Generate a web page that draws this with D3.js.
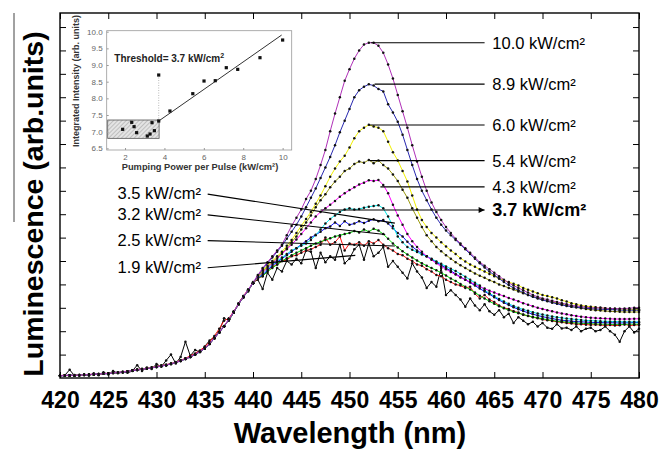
<!DOCTYPE html>
<html><head><meta charset="utf-8">
<script src="https://cdn.jsdelivr.net/npm/d3@7"></script>
<style>body{margin:0;background:#fff}svg{display:block}</style>
</head><body><svg id="c" width="660" height="450"></svg>
<script>
// ---------- data ----------
const wavelengths = [
420,420.5,421,421.5,422,422.5,423,423.5,424,424.5,
425,425.5,426,426.5,427,427.5,428,428.5,429,429.5,
430,430.5,431,431.5,432,432.5,433,433.5,434,434.5,
435,435.5,436,436.5,437,437.5,438,438.5,439,439.5,
440,440.5,441,441.5,442,442.5,443,443.5,444,444.5,
445,445.5,446,446.5,447,447.5,448,448.5,449,449.5,
450,450.5,451,451.5,452,452.5,453,453.5,454,454.5,
455,455.5,456,456.5,457,457.5,458,458.5,459,459.5,
460,460.5,461,461.5,462,462.5,463,463.5,464,464.5,
465,465.5,466,466.5,467,467.5,468,468.5,469,469.5,
470,470.5,471,471.5,472,472.5,473,473.5,474,474.5,
475,475.5,476,476.5,477,477.5,478,478.5,479,479.5,480];

const p19 = [
0.10,0.12,0.35,0.10,0.12,0.15,0.10,0.20,0.12,0.25,
0.15,0.30,0.20,0.25,0.22,0.30,0.55,0.30,0.45,0.38,
0.60,0.48,0.75,1.00,0.62,0.90,1.55,0.95,1.20,1.10,
1.35,1.60,1.75,2.00,2.55,2.45,2.80,3.20,3.50,3.70,
4.10,4.20,3.80,4.50,4.20,4.70,4.55,5.00,4.85,5.10,
4.90,5.45,5.40,4.70,5.35,4.95,5.20,5.05,5.70,4.90,
5.10,5.50,5.70,5.05,5.75,5.20,5.35,5.60,4.75,5.00,
4.75,4.50,4.25,4.90,4.55,4.30,3.85,4.10,3.90,4.70,
3.55,3.75,3.55,3.35,3.05,3.40,3.10,2.90,3.15,2.85,
2.70,2.90,2.60,2.75,2.35,2.60,2.45,2.30,2.40,2.20,
2.35,2.15,2.10,2.30,2.12,2.15,2.05,2.20,2.00,2.10,
2.15,2.00,2.05,2.20,2.00,1.85,1.55,2.00,2.20,1.95,2.10];

const p25 = [
0.10,0.12,0.11,0.13,0.12,0.14,0.15,0.16,0.17,0.19,
0.20,0.22,0.23,0.27,0.29,0.32,0.36,0.38,0.42,0.45,
0.49,0.53,0.57,0.62,0.68,0.76,0.84,0.95,1.05,1.18,
1.33,1.55,1.80,2.10,2.45,2.55,2.85,3.15,3.50,3.78,
4.05,4.25,4.35,4.60,4.75,4.85,5.00,5.05,5.20,5.25,
5.35,5.45,5.50,5.60,5.70,6.00,5.70,5.80,6.05,5.45,
5.75,5.70,5.80,5.65,5.85,5.75,5.90,5.70,5.55,5.45,
5.30,5.25,5.10,5.00,4.85,4.80,4.65,4.55,4.40,4.35,
4.20,4.10,4.00,3.95,3.85,3.90,3.60,3.40,3.55,3.35,
3.25,3.10,3.00,2.95,2.85,2.80,2.70,2.65,2.60,2.55,
2.50,2.47,2.44,2.40,2.38,2.35,2.33,2.30,2.30,2.28,
2.27,2.28,2.26,2.25,2.26,2.24,2.25,2.30,2.24,2.26,2.27];

const p32 = [
0.10,0.10,0.11,0.12,0.13,0.13,0.14,0.16,0.16,0.18,
0.19,0.21,0.24,0.26,0.28,0.31,0.34,0.37,0.41,0.43,
0.47,0.52,0.55,0.60,0.66,0.74,0.82,0.90,1.00,1.12,
1.26,1.46,1.70,1.95,2.20,2.50,2.80,3.15,3.45,3.75,
4.05,4.28,4.35,4.55,4.70,4.85,5.00,5.12,5.25,5.35,
5.45,5.55,5.65,5.75,5.82,5.90,5.97,6.05,6.10,6.15,
6.20,6.28,6.22,6.35,6.25,6.38,6.30,6.15,5.95,5.75,
5.58,5.42,5.28,5.15,5.02,4.90,4.80,4.70,4.60,4.50,
4.38,4.25,4.15,4.02,3.90,3.78,3.65,3.52,3.40,3.28,
3.17,3.07,2.98,2.90,2.83,2.77,2.71,2.66,2.61,2.57,
2.53,2.49,2.46,2.43,2.41,2.39,2.37,2.35,2.34,2.33,
2.32,2.31,2.30,2.30,2.29,2.29,2.29,2.29,2.30,2.30,2.30];

const p35 = [
0.10,0.11,0.12,0.11,0.12,0.14,0.14,0.16,0.16,0.18,
0.20,0.21,0.23,0.25,0.28,0.32,0.34,0.38,0.40,0.43,
0.48,0.51,0.55,0.61,0.66,0.74,0.81,0.90,1.01,1.12,
1.26,1.46,1.70,1.95,2.21,2.50,2.80,3.16,3.45,3.76,
4.05,4.28,4.40,4.60,4.80,4.95,5.10,5.25,5.40,5.55,
5.70,5.85,6.00,6.12,6.25,6.40,6.48,6.65,6.50,6.70,
6.55,6.60,6.70,6.62,6.72,6.78,6.70,6.75,6.60,6.40,
6.20,6.05,5.82,5.62,5.45,5.32,5.20,5.08,4.95,4.83,
4.70,4.58,4.45,4.32,4.20,4.08,3.95,3.82,3.70,3.58,
3.45,3.33,3.22,3.12,3.02,2.94,2.86,2.79,2.73,2.67,
2.62,2.58,2.54,2.50,2.47,2.45,2.43,2.41,2.40,2.39,
2.38,2.37,2.37,2.36,2.36,2.36,2.35,2.36,2.36,2.37,2.37];

const p37 = [
0.11,0.10,0.11,0.12,0.12,0.13,0.15,0.15,0.17,0.18,
0.19,0.22,0.23,0.26,0.28,0.31,0.35,0.37,0.40,0.44,
0.47,0.51,0.56,0.60,0.67,0.73,0.81,0.91,1.00,1.13,
1.27,1.45,1.71,1.96,2.20,2.50,2.81,3.15,3.46,3.75,
4.05,4.30,4.45,4.65,4.85,5.00,5.15,5.30,5.45,5.55,
5.65,5.75,5.90,6.10,6.35,6.60,6.80,6.95,7.10,7.20,
7.25,7.20,7.22,7.28,7.32,7.35,7.38,7.25,6.90,6.50,
6.05,5.80,5.60,5.48,5.38,5.28,5.20,5.10,4.98,4.88,
4.77,4.67,4.57,4.45,4.33,4.20,4.07,3.95,3.75,3.62,
3.50,3.38,3.27,3.17,3.08,3.00,2.93,2.87,2.81,2.76,
2.71,2.67,2.63,2.60,2.57,2.54,2.52,2.50,2.48,2.46,
2.45,2.44,2.43,2.42,2.42,2.41,2.41,2.40,2.40,2.40,2.40];

const p43 = [
0.10,0.10,0.11,0.11,0.13,0.14,0.14,0.16,0.16,0.18,
0.19,0.21,0.24,0.25,0.28,0.32,0.34,0.37,0.40,0.44,
0.47,0.51,0.56,0.60,0.66,0.73,0.82,0.90,1.00,1.13,
1.26,1.46,1.70,1.95,2.20,2.51,2.80,3.15,3.45,3.75,
4.05,4.30,4.50,4.70,4.90,5.10,5.30,5.50,5.70,5.92,
6.15,6.40,6.65,6.90,7.10,7.25,7.40,7.57,7.75,7.90,
8.03,8.15,8.27,8.35,8.45,8.42,8.46,8.25,7.90,7.40,
6.95,6.55,6.15,5.85,5.60,5.40,5.20,5.05,4.90,4.77,
4.65,4.53,4.42,4.30,4.20,4.10,4.00,3.90,3.82,3.73,
3.65,3.57,3.50,3.42,3.35,3.28,3.20,3.13,3.07,3.00,
2.95,2.90,2.85,2.80,2.76,2.72,2.68,2.65,2.62,2.60,
2.58,2.56,2.55,2.54,2.53,2.52,2.52,2.52,2.52,2.53,2.53];

const p54 = [
0.10,0.11,0.10,0.12,0.13,0.13,0.15,0.15,0.16,0.19,
0.19,0.22,0.23,0.25,0.29,0.31,0.35,0.37,0.41,0.43,
0.48,0.51,0.56,0.60,0.67,0.73,0.82,0.90,1.01,1.12,
1.27,1.45,1.71,1.95,2.21,2.50,2.80,3.16,3.45,3.76,
4.05,4.32,4.55,4.75,4.95,5.15,5.35,5.55,5.80,6.05,
6.35,6.65,6.95,7.30,7.60,7.85,8.15,8.40,8.60,8.85,
8.95,9.15,9.25,9.20,9.32,9.18,9.30,9.10,8.95,8.70,
8.42,8.05,7.70,7.25,6.85,6.45,6.10,5.85,5.60,5.42,
5.25,5.10,4.95,4.82,4.70,4.58,4.47,4.37,4.28,4.18,
4.10,4.00,3.93,3.85,3.78,3.70,3.62,3.55,3.48,3.42,
3.36,3.30,3.25,3.20,3.15,3.10,3.05,3.02,2.98,2.95,
2.92,2.90,2.88,2.86,2.85,2.84,2.83,2.82,2.82,2.82,2.82];

const p60 = [
0.11,0.10,0.11,0.12,0.12,0.14,0.14,0.15,0.16,0.18,
0.20,0.21,0.23,0.26,0.28,0.31,0.34,0.38,0.40,0.44,
0.47,0.52,0.55,0.61,0.66,0.74,0.81,0.91,1.00,1.13,
1.27,1.46,1.70,1.96,2.21,2.50,2.81,3.15,3.46,3.76,
4.05,4.33,4.60,4.80,5.00,5.20,5.40,5.65,5.90,6.20,
6.50,6.80,7.10,7.45,7.80,8.20,8.60,8.95,9.25,9.50,
9.85,10.25,10.55,10.70,10.82,10.75,10.70,10.55,10.10,9.65,
9.30,8.85,8.40,7.80,7.20,6.75,6.45,6.20,6.00,5.80,
5.62,5.45,5.30,5.12,4.98,4.85,4.75,4.65,4.55,4.45,
4.35,4.25,4.17,4.10,4.03,3.95,3.85,3.77,3.70,3.62,
3.55,3.50,3.45,3.40,3.32,3.27,3.20,3.15,3.10,3.07,
3.05,3.02,3.00,2.98,2.96,2.95,2.95,2.94,2.94,2.93,2.93];

const p89 = [
0.10,0.10,0.12,0.11,0.13,0.13,0.14,0.15,0.17,0.18,
0.19,0.21,0.23,0.25,0.28,0.31,0.34,0.37,0.40,0.43,
0.47,0.51,0.55,0.60,0.66,0.73,0.81,0.90,1.00,1.12,
1.26,1.45,1.70,1.95,2.20,2.50,2.80,3.15,3.45,3.75,
4.05,4.35,4.65,4.90,5.15,5.40,5.65,5.95,6.25,6.55,
6.90,7.30,7.70,8.10,8.55,9.00,9.45,9.95,10.50,11.00,
11.50,12.00,12.30,12.45,12.55,12.50,12.35,12.25,11.70,11.35,
10.95,10.40,9.75,9.10,8.50,8.00,7.60,7.20,6.85,6.55,
6.30,6.10,5.90,5.70,5.50,5.30,5.10,4.90,4.72,4.55,
4.40,4.25,4.10,3.97,3.85,3.75,3.65,3.55,3.47,3.40,
3.33,3.28,3.22,3.17,3.12,3.08,3.05,3.02,3.00,2.98,
2.96,2.95,2.94,2.93,2.92,2.92,2.90,2.90,2.90,2.90,2.90];

const p100 = [
0.10,0.11,0.11,0.12,0.12,0.13,0.15,0.16,0.17,0.18,
0.20,0.22,0.24,0.26,0.29,0.32,0.35,0.38,0.41,0.44,
0.48,0.52,0.56,0.61,0.67,0.74,0.82,0.91,1.02,1.14,
1.28,1.47,1.72,1.97,2.22,2.52,2.83,3.17,3.48,3.78,
4.08,4.40,4.70,4.95,5.20,5.45,5.70,6.10,6.50,6.85,
7.20,7.65,8.00,8.50,9.10,9.75,10.55,11.30,12.00,12.70,
13.20,13.65,14.00,14.25,14.33,14.33,14.20,13.90,13.40,12.80,
12.10,11.40,10.70,9.95,9.25,8.60,8.00,7.50,7.10,6.75,
6.45,6.20,5.95,5.75,5.55,5.35,5.15,4.95,4.80,4.65,
4.50,4.35,4.20,4.07,3.95,3.85,3.75,3.65,3.55,3.47,
3.40,3.35,3.30,3.25,3.20,3.15,3.10,3.08,3.05,3.03,
3.00,3.00,3.00,2.98,2.97,2.97,2.96,2.97,2.98,3.00,3.00];

// drawn from bottom to top
const seriesList  = [p19, p25, p32, p35, p37, p43, p54, p60, p89, p100];
const seriesColor = ["#000000","#ff1010","#00dd00","#1010ff","#00e8e8","#ff00ff","#9a9a10","#f0f000","#2828b0","#b030b8"];

const xTicks = [420,425,430,435,440,445,450,455,460,465,470,475,480];
const yTicks = [1,2,3,4,5,6,7,8,9,10,11,12,13,14,15];

// right-side labels: text, leader start (nm, value), leader end nm
const rightLabels = ["10.0 kW/cm²","8.9 kW/cm²","6.0 kW/cm²","5.4 kW/cm²","4.3 kW/cm²","3.7 kW/cm²"];
const rightStartNm = [452.2, 452.6, 452.0, 452.1, 453.2, 447.0];
const rightValue   = [14.33, 12.56, 10.81, 9.29, 8.17, 7.18];
// left-side labels with sloped leaders
const leftLabels   = ["3.5 kW/cm²","3.2 kW/cm²","2.5 kW/cm²","1.9 kW/cm²"];
const leftStartVal = [7.86, 6.97, 5.87, 4.71];
const leftEndNm    = [454.7, 453.7, 454.7, 450.6];
const leftEndVal   = [6.62, 6.13, 5.64, 5.24];

// inset: integrated intensity vs pumping power
const insetPower     = [1.88,2.34,2.46,2.59,3.13,3.27,3.37,3.49,3.71,3.71,4.28,5.44,6.01,6.58,7.14,7.72,8.85,10.0];
const insetIntensity = [7.07,7.28,7.15,6.97,6.87,6.93,7.27,7.03,7.32,8.70,7.62,8.14,8.52,8.53,8.92,8.87,9.22,9.75];
const fitPower = [3.71, 9.95];
const fitIntensity = [7.32, 9.90];
const insetYTicks = [6.5,7.0,7.5,8.0,8.5,9.0,9.5,10.0];
const insetXTicks = [2,4,6,8,10];

// ---------- drawing ----------
const svg = d3.select("#c");
const FONT = "'Liberation Sans', Arial, Helvetica, sans-serif";
const x = d3.scaleLinear([420,480],[60,639]);
const y = d3.scaleLinear([0,15.6],[378,13]);

const defs = svg.append("defs");
defs.append("marker").attr("id","arr").attr("viewBox","0 0 10 10").attr("refX",10).attr("refY",5)
  .attr("markerWidth",9).attr("markerHeight",6).attr("markerUnits","userSpaceOnUse").attr("orient","auto")
  .append("path").attr("d","M0,0L10,5L0,10Z").attr("fill","#000");
const pat = defs.append("pattern").attr("id","hatch").attr("patternUnits","userSpaceOnUse")
  .attr("width",3).attr("height",3).attr("patternTransform","rotate(45)");
pat.append("rect").attr("width",3).attr("height",3).attr("fill","#e4e4e4");
pat.append("line").attr("x1",0).attr("y1",0).attr("x2",0).attr("y2",3).attr("stroke","#888").attr("stroke-width",0.8);

// series
const line = d3.line().x((d,i)=>x(wavelengths[i])).y(d=>y(d));
const sg = svg.append("g");
seriesList.forEach((s,k)=>{
  const g = sg.append("g");
  g.append("path").attr("d",line(s)).attr("fill","none").attr("stroke",seriesColor[k]).attr("stroke-width",1);
  g.selectAll("circle").data(s).join("circle")
    .attr("cx",(d,i)=>x(wavelengths[i])).attr("cy",d=>y(d)).attr("r",1.25).attr("fill","#111");
});

// axes (inward ticks)
function styleAxis(g){ g.select(".domain").remove(); g.selectAll(".tick line").attr("stroke","#000").attr("stroke-width",1); }
svg.append("g").attr("transform","translate(0,378)")
  .call(d3.axisBottom(x).tickValues(xTicks).tickSizeInner(-6).tickSizeOuter(0).tickPadding(14).tickFormat(d3.format("d")))
  .call(styleAxis)
  .call(g=>g.selectAll("text").attr("font-family","'Liberation Sans Narrow','Arial Narrow',"+FONT)
     .attr("font-weight","bold").attr("font-size",23).attr("fill","#000"));
svg.append("g").attr("transform","translate(0,13)")
  .call(d3.axisTop(x).tickValues(xTicks).tickSizeInner(-6).tickSizeOuter(0).tickFormat(""))
  .call(styleAxis);
svg.append("g").attr("transform","translate(60,0)")
  .call(d3.axisLeft(y).tickValues(yTicks).tickSizeInner(-6).tickSizeOuter(0).tickFormat(""))
  .call(styleAxis);
svg.append("g").attr("transform","translate(639,0)")
  .call(d3.axisRight(y).tickValues(yTicks).tickSizeInner(-6).tickSizeOuter(0).tickFormat(""))
  .call(styleAxis);
svg.append("rect").attr("x",60).attr("y",13).attr("width",579).attr("height",365)
  .attr("fill","none").attr("stroke","#000").attr("stroke-width",1.4);

// axis titles
svg.append("text").attr("x",350).attr("y",443).attr("text-anchor","middle")
  .attr("font-family",FONT).attr("font-weight","bold").attr("font-size",29).text("Wavelength (nm)");
svg.append("text").attr("transform","translate(43,204) rotate(-90)").attr("text-anchor","middle")
  .attr("font-family",FONT).attr("font-weight","bold").attr("font-size",28.5).text("Luminescence (arb.units)");
svg.append("line").attr("x1",14).attr("x2",14).attr("y1",13).attr("y2",222).attr("stroke","#444").attr("stroke-width",1);

// right labels
const textX = x(464.8);
rightLabels.forEach((t,i)=>{
  const isArrow = i===rightLabels.length-1;
  svg.append("line").attr("x1",x(rightStartNm[i])).attr("x2",x(464.0)).attr("y1",y(rightValue[i])).attr("y2",y(rightValue[i]))
    .attr("stroke","#000").attr("stroke-width",1.1).attr("marker-end",isArrow?"url(#arr)":null);
  svg.append("text").attr("x",textX).attr("y",y(rightValue[i])).attr("dy","0.36em")
    .attr("font-family",FONT).attr("font-size",isArrow?18:16.5).attr("font-weight",isArrow?"bold":"normal").text(t);
});
// left labels
leftLabels.forEach((t,i)=>{
  svg.append("line").attr("x1",x(435.3)).attr("y1",y(leftStartVal[i])).attr("x2",x(leftEndNm[i])).attr("y2",y(leftEndVal[i]))
    .attr("stroke","#000").attr("stroke-width",1.1);
  svg.append("text").attr("x",x(434.6)).attr("y",y(leftStartVal[i])).attr("dy","0.3em").attr("text-anchor","end")
    .attr("font-family",FONT).attr("font-size",16.5).text(t);
});

// ---------- inset ----------
const ix = d3.scaleLinear([1.07,10.46],[106.7,291.7]);
const iy = d3.scaleLinear([6.45,10.03],[150,30.7]);
const ins = svg.append("g");
ins.append("rect").attr("x",106.7).attr("y",30.7).attr("width",185).attr("height",119.3).attr("fill","#fff");
ins.append("rect").attr("x",ix(1.12)).attr("y",iy(7.35)).attr("width",ix(3.73)-ix(1.12)).attr("height",iy(6.80)-iy(7.35))
  .attr("fill","url(#hatch)").attr("stroke","#555").attr("stroke-width",0.8);
ins.append("line").attr("x1",ix(3.71)).attr("x2",ix(3.71)).attr("y1",iy(7.32)).attr("y2",iy(8.70))
  .attr("stroke","#aaa").attr("stroke-width",0.8).attr("stroke-dasharray","1,1.5");
ins.append("line").attr("x1",ix(fitPower[0])).attr("y1",iy(fitIntensity[0])).attr("x2",ix(fitPower[1])).attr("y2",iy(fitIntensity[1]))
  .attr("stroke","#333").attr("stroke-width",1);
ins.selectAll("rect.pt").data(insetPower).join("rect").attr("class","pt")
  .attr("x",(d)=>ix(d)-1.6).attr("y",(d,i)=>iy(insetIntensity[i])-1.6).attr("width",3.2).attr("height",3.2).attr("fill","#111");
function styleInset(g){ g.select(".domain").remove(); g.selectAll(".tick line").attr("stroke","#999");
  g.selectAll("text").attr("font-family",FONT).attr("font-size",8).attr("fill","#666"); }
ins.append("g").attr("transform","translate(106.7,0)")
  .call(d3.axisLeft(iy).tickValues(insetYTicks).tickSizeInner(-2).tickSizeOuter(0).tickPadding(4).tickFormat(d3.format(".1f")))
  .call(styleInset);
ins.append("g").attr("transform","translate(0,150)")
  .call(d3.axisBottom(ix).tickValues(insetXTicks).tickSizeInner(-2).tickSizeOuter(0).tickPadding(4).tickFormat(d3.format("d")))
  .call(styleInset);
ins.append("rect").attr("x",106.7).attr("y",30.7).attr("width",185).attr("height",119.3)
  .attr("fill","none").attr("stroke","#999").attr("stroke-width",0.8);
ins.append("text").attr("x",200).attr("y",170).attr("text-anchor","middle")
  .attr("font-family",FONT).attr("font-weight","bold").attr("font-size",9.3).attr("fill","#333")
  .text("Pumping Power per Pulse (kW/cm²)");
ins.append("text").attr("transform","translate(78.5,81) rotate(-90)").attr("text-anchor","middle")
  .attr("font-family",FONT).attr("font-weight","bold").attr("font-size",9).attr("fill","#333")
  .text("Integrated Intensity (arb. units)");
const th = ins.append("text").attr("x",114.3).attr("y",62)
  .attr("font-family",FONT).attr("font-weight","bold").attr("font-size",10).attr("fill","#222");
th.append("tspan").text("Threshold= 3.7 kW/cm");
th.append("tspan").attr("dy",-4).attr("font-size",7).text("2");
</script></body></html>
